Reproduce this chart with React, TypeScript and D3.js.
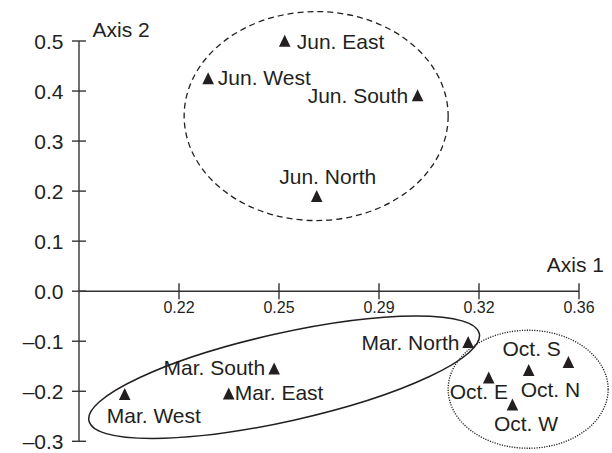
import React from "react";
import * as d3 from "d3";

// ---- Data ----
const pointNames = [
  "Jun. East", "Jun. West", "Jun. South", "Jun. North",
  "Mar. North", "Mar. South", "Mar. East", "Mar. West",
  "Oct. S", "Oct. N", "Oct. E", "Oct. W",
];
const axis1Values = [
  0.257, 0.2302, 0.3035, 0.2682,
  0.3212, 0.2533, 0.2374, 0.201,
  0.3563, 0.3424, 0.3284, 0.3367,
];
const axis2Values = [
  0.5, 0.425, 0.391, 0.19,
  -0.102, -0.155, -0.205, -0.206,
  -0.142, -0.158, -0.173, -0.227,
];
const xTickValues = [0.22, 0.255, 0.29, 0.325, 0.36];
const xTickLabels = ["0.22", "0.25", "0.29", "0.32", "0.36"];
const yTickValues = [0.5, 0.4, 0.3, 0.2, 0.1, 0.0, -0.1, -0.2, -0.3];
const yTickLabels = ["0.5", "0.4", "0.3", "0.2", "0.1", "0.0", "–0.1", "–0.2", "–0.3"];
const xDomain = [0.185, 0.36];
const yDomain = [-0.3, 0.5];
const groupNames = ["Jun.", "Mar.", "Oct."];
const groupCenterX = [0.268, 0.2568, 0.3422];
const groupCenterY = [0.35, -0.172, -0.196];

// ---- Layout (positions / styles) ----
const W = 612;
const H = 453;
const labelLayout: { dx: number; dy: number; anchor: string }[] = [
  { dx: 12, dy: 8, anchor: "start" },
  { dx: 9.7, dy: 6.5, anchor: "start" },
  { dx: -9.5, dy: 7, anchor: "end" },
  { dx: 11, dy: -12, anchor: "middle" },
  { dx: -8.7, dy: 8, anchor: "end" },
  { dx: -9, dy: 6.7, anchor: "end" },
  { dx: 6, dy: 6, anchor: "start" },
  { dx: -18, dy: 29, anchor: "start" },
  { dx: -7.6, dy: -6, anchor: "end" },
  { dx: -8, dy: 27, anchor: "start" },
  { dx: -39, dy: 21, anchor: "start" },
  { dx: -18.5, dy: 26, anchor: "start" },
];
const ellipseStyle = [
  { rx: 132, ry: 104.5, rot: 0, dash: "6 4", width: 1.3 },
  { rx: 200, ry: 44, rot: -12.6, dash: "none", width: 1.5 },
  { rx: 80, ry: 59, rot: 0, dash: "1.2 1.3", width: 1.3 },
];

const FONT = "'Liberation Sans', Arial, Helvetica, sans-serif";
const INK = "#231f20";

export default function App() {
  const x = d3.scaleLinear().domain(xDomain).range([79, 579]);
  const y = d3.scaleLinear().domain(yDomain).range([441.3, 41]);

  const tri = (cx: number, cy: number) => {
    const p = d3.path();
    p.moveTo(cx, cy - 6.2);
    p.lineTo(cx + 5.8, cy + 5.8);
    p.lineTo(cx - 5.8, cy + 5.8);
    p.closePath();
    return p.toString();
  };

  const x0 = x(xDomain[0]);
  const y0 = y(0);

  return (
    <svg
      width={W}
      height={H}
      viewBox={`0 0 ${W} ${H}`}
      style={{ position: "absolute", left: 0, top: 0, background: "#fff" }}
      fontFamily={FONT}
    >
      <rect width={W} height={H} fill="#fff" />
      {/* group ellipses */}
      {groupNames.map((g, i) => {
        const s = ellipseStyle[i];
        const cx = x(groupCenterX[i]);
        const cy = y(groupCenterY[i]);
        return (
          <ellipse
            key={g}
            cx={cx}
            cy={cy}
            rx={s.rx}
            ry={s.ry}
            transform={`rotate(${s.rot} ${cx} ${cy})`}
            fill="none"
            stroke={INK}
            strokeWidth={s.width}
            strokeDasharray={s.dash}
          />
        );
      })}

      {/* y axis */}
      <line x1={x0} x2={x0} y1={y(yDomain[1])} y2={y(yDomain[0])} stroke="#333" strokeWidth={1.4} />
      {yTickValues.map((v, i) => (
        <g key={"y" + i}>
          <line x1={x0 - 7} x2={x0 + 7} y1={y(v)} y2={y(v)} stroke="#333" strokeWidth={1.4} />
          <text x={63.5} y={y(v) + 7.5} textAnchor="end" fontSize={21} fill={INK}>
            {yTickLabels[i]}
          </text>
        </g>
      ))}

      {/* x axis */}
      <line x1={x0} x2={x(xDomain[1])} y1={y0} y2={y0} stroke="#333" strokeWidth={1.4} />
      {xTickValues.map((v, i) => (
        <g key={"x" + i}>
          <line x1={x(v)} x2={x(v)} y1={y0 - 8} y2={y0 + 8} stroke="#333" strokeWidth={1.4} />
          <text x={x(v)} y={y0 + 21.5} textAnchor="middle" fontSize={16} fill={INK}>
            {xTickLabels[i]}
          </text>
        </g>
      ))}

      {/* axis titles */}
      <text x={92.5} y={36.7} fontSize={21} fill={INK}>Axis 2</text>
      <text x={604} y={272} fontSize={21} textAnchor="end" fill={INK}>Axis 1</text>

      {/* points */}
      {pointNames.map((n, i) => {
        const cx = x(axis1Values[i]);
        const cy = y(axis2Values[i]);
        const l = labelLayout[i];
        return (
          <g key={n}>
            <path d={tri(cx, cy)} fill={INK} />
            <text x={cx + l.dx} y={cy + l.dy} textAnchor={l.anchor} fontSize={21} fill={INK}>
              {n}
            </text>
          </g>
        );
      })}
    </svg>
  );
}
